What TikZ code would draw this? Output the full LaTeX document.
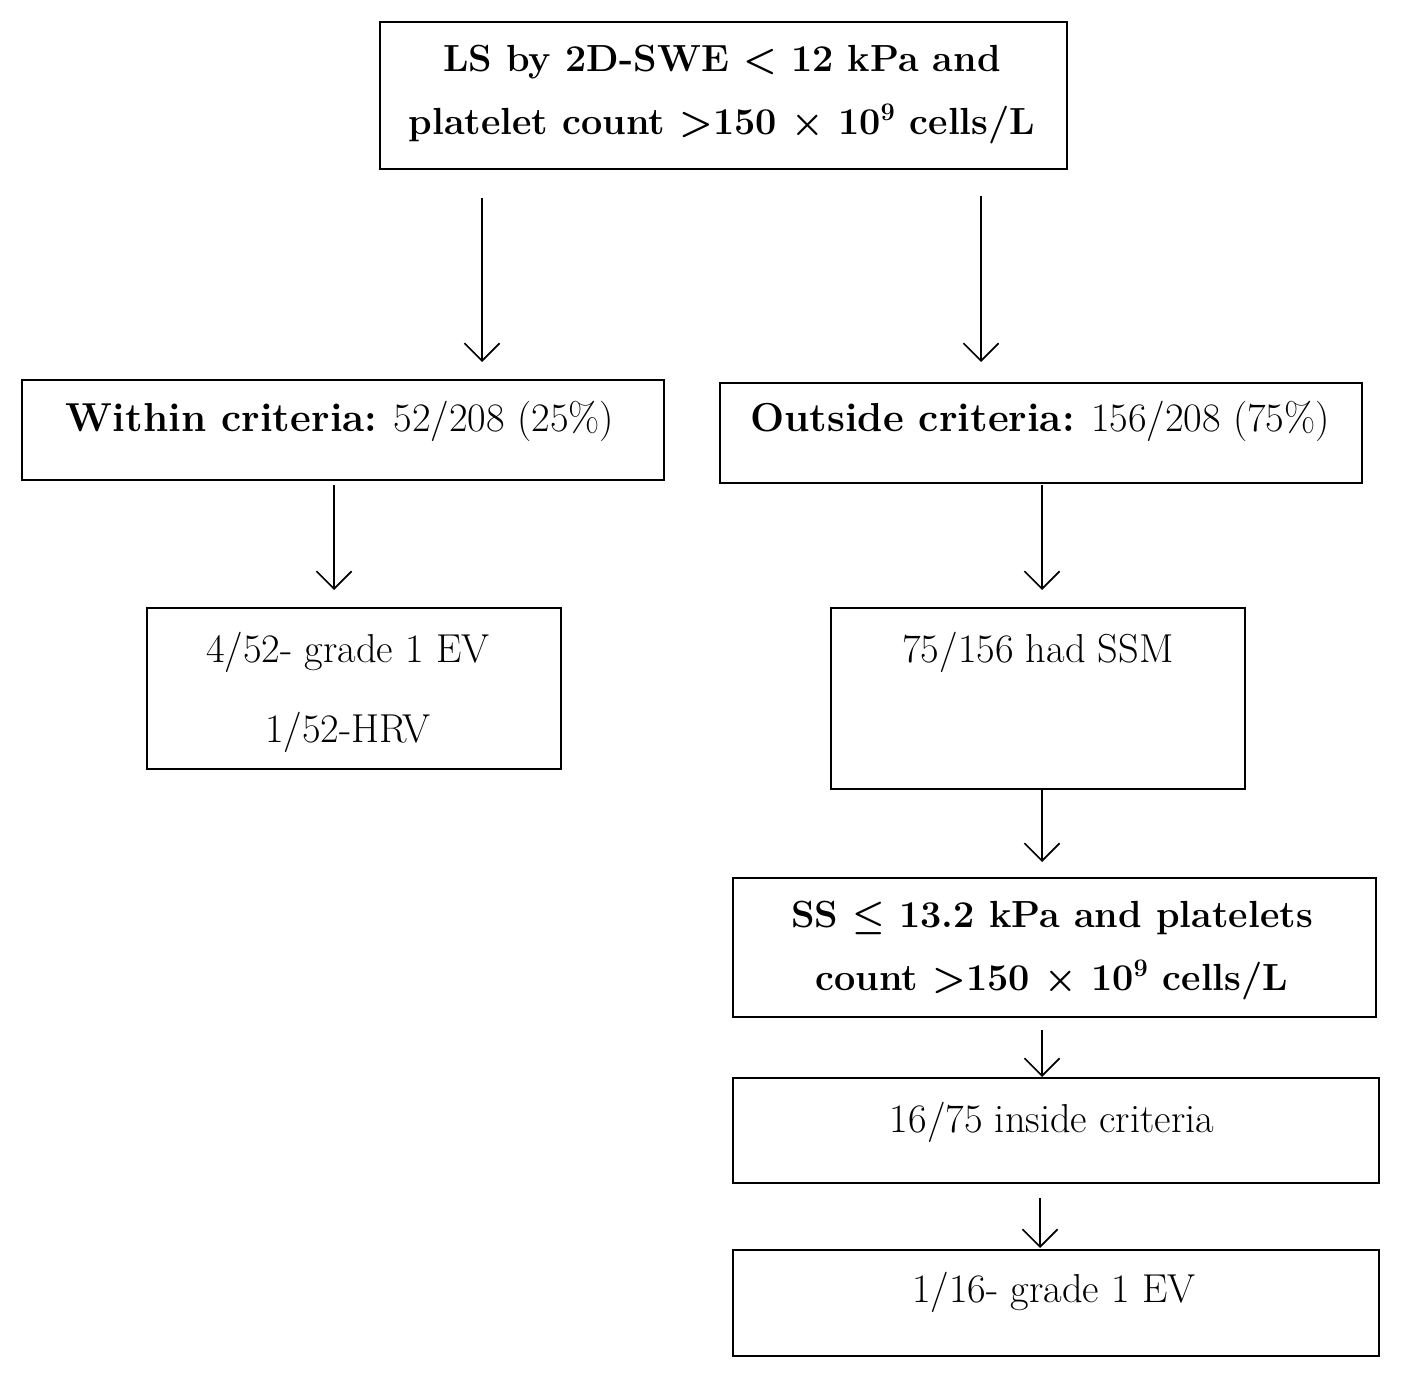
\documentclass[tikz,border=0pt]{standalone}
\usepackage{amsmath,amssymb}
\usepackage{tikz}
\usetikzlibrary{arrows.meta}
\tikzset{
  box/.style={draw,line width=1.2pt},
  txt/.style={font=\fontsize{23}{28}\selectfont,inner sep=0pt},
  btxt/.style={font=\fontsize{21.5}{26}\selectfont\bfseries,inner sep=0pt},
  flow/.style={-{Straight Barb[length=10pt,width=20pt]},line width=1pt}
}
\begin{document}
\begin{tikzpicture}[x=0.02cm,y=-0.02cm]
  \useasboundingbox (0,0) rectangle (1404,1378);

  % Boxes
  \draw[box] (380,22) rectangle (1067,169);
  \draw[box] (22,380) rectangle (664,480);
  \draw[box] (720,383) rectangle (1362,483);
  \draw[box] (147,608) rectangle (561,769);
  \draw[box] (831,608) rectangle (1245,789);
  \draw[box] (733,878) rectangle (1376,1017);
  \draw[box] (733,1078) rectangle (1379,1183);
  \draw[box] (733,1250) rectangle (1379,1356);

  % Texts
  \node[btxt] (top1) at (722,62) {LS by 2D-SWE \textless{} 12 kPa and};
  \node[btxt] (top2) at (722,124) {platelet count \textgreater150 $\boldsymbol{\times}$ 10$^{\boldsymbol{9}}$ cells/L};
  \node[txt] (within) at (340,421) {\textbf{Within criteria:} 52/208 (25\%)};
  \node[txt] (outside) at (1040,421) {\textbf{Outside criteria:} 156/208 (75\%)};
  \node[txt] (ev1) at (348,652) {4/52- grade 1 EV};
  \node[txt] (hrv) at (348,732) {1/52-HRV};
  \node[txt] (ssm) at (1038,652) {75/156 had SSM};
  \node[btxt] (ss1) at (1052,918) {SS $\boldsymbol{\leq}$ 13.2 kPa and platelets};
  \node[btxt] (ss2) at (1052,980) {count \textgreater150 $\boldsymbol{\times}$ 10$^{\boldsymbol{9}}$ cells/L};
  \node[txt] (inside) at (1052,1122) {16/75 inside criteria};
  \node[txt] (ev2) at (1054,1292) {1/16- grade 1 EV};

  % Arrows
  \coordinate (a1) at (482,198); \coordinate (b1) at (482,362);
  \coordinate (a2) at (981,196); \coordinate (b2) at (981,362);
  \coordinate (a3) at (334,485); \coordinate (b3) at (334,590);
  \coordinate (a4) at (1042,485); \coordinate (b4) at (1042,590);
  \coordinate (a5) at (1042,789); \coordinate (b5) at (1042,862);
  \coordinate (a6) at (1042,1030); \coordinate (b6) at (1042,1077);
  \coordinate (a7) at (1040,1198); \coordinate (b7) at (1040,1248);
  \foreach \i in {1,...,7}
    \draw[flow] (a\i) -- (b\i);
\end{tikzpicture}
\end{document}
